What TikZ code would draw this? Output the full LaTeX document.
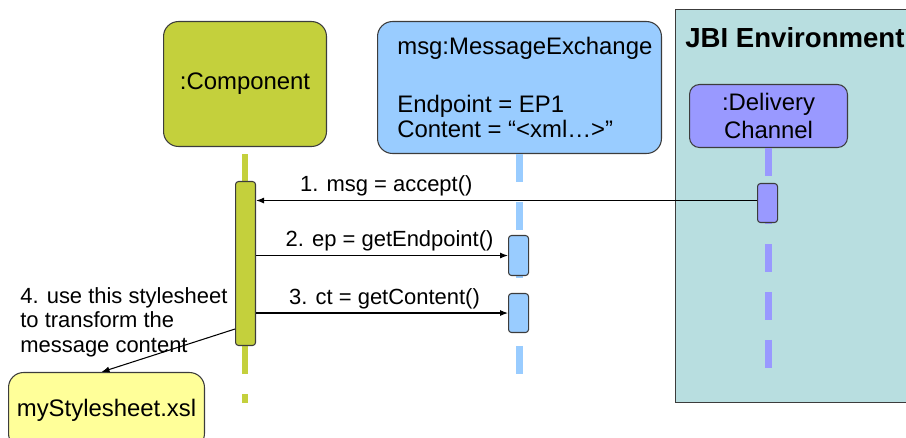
\documentclass[tikz,border=0pt]{standalone}
\usepackage{fontspec}
\setmainfont{Liberation Sans}
\usetikzlibrary{arrows.meta}
\definecolor{compgreen}{HTML}{C4D03C}
\definecolor{msgblue}{HTML}{99CCFF}
\definecolor{jbiteal}{HTML}{B8DEE0}
\definecolor{delivpurple}{HTML}{9999FF}
\definecolor{xslyellow}{HTML}{FFFF99}
\definecolor{edgegray}{HTML}{3C3C3C}
\newcommand{\diagboxfont}{\fontsize{13.6}{15.9}\selectfont}
\newcommand{\msglabelfont}{\fontsize{12.5}{13.9}\selectfont}

\begin{document}
\begin{tikzpicture}[x=0.02cm,y=-0.02cm,
  box/.style={draw=edgegray, line width=0.6pt, rounded corners=0.3cm, anchor=north west, inner sep=0pt, font=\diagboxfont},
  act/.style={draw=edgegray, line width=0.6pt, rounded corners=0.06cm, anchor=north west, minimum width=0.4cm, inner sep=0pt},
  life/.style={line width=0.13cm, dash pattern=on 0.56cm off 0.4cm},
  msgarrow/.style={-{Latex[length=0.16cm,width=0.12cm]}, line width=0.6pt},
  lbl/.style={font=\msglabelfont, inner sep=2pt}]
\useasboundingbox (0,0) rectangle (906,438);
\node[draw=edgegray, line width=0.8pt, fill=jbiteal, anchor=north west, minimum width=5cm, minimum height=7.86cm, inner sep=0pt] (jbi) at (675,9) {};
\node[anchor=west, inner sep=0pt, font=\bfseries\fontsize{15.7}{18}\selectfont] (jbititle) at (685,38) {JBI Environment};
\node[box, fill=compgreen, minimum width=3.26cm, minimum height=2.5cm] (comp) at (163,21) {:Component};
\node[box, fill=msgblue, minimum width=5.68cm, minimum height=2.64cm] (msgex) at (377,21) {};
\node[anchor=west, align=left, inner sep=0pt, font=\fontsize{13.6}{14.2}\selectfont] (msgtext) at ([xshift=0.4cm]msgex.west) {msg:MessageExchange\\[0.66cm]Endpoint = EP1\\Content = “<xml…>”};
\node[box, fill=delivpurple, rounded corners=0.2cm, minimum width=3.16cm, minimum height=1.26cm, align=center] (deliv) at (689,84) {:Delivery\\Channel};
\node[box, fill=xslyellow, minimum width=3.92cm, minimum height=1.52cm] (xsl) at (8,372) {myStylesheet.xsl};
\draw[life, compgreen] ([yshift=-0.14cm]comp.south) -- ++(0,249);
\draw[life, msgblue] (msgex.south) -- ++(0,220);
\draw[life, delivpurple] (deliv.south) -- ++(0,220);
\node[act, fill=compgreen, minimum height=3.28cm] (act1) at (235,181) {};
\node[act, fill=msgblue, minimum height=0.8cm] (act2) at (508,235) {};
\node[act, fill=msgblue, minimum height=0.78cm] (act3) at (508,293) {};
\node[act, fill=delivpurple, minimum height=0.78cm] (act4) at (757,183) {};
\draw[msgarrow] ([yshift=0.05cm]act4.west) -- ([yshift=0.05cm]act4.west -| act1.east) node[lbl, above, pos=0.74] {1. msg = accept()};
\draw[msgarrow] (act2.west -| act1.east) -- (act2.west) node[lbl, above, pos=0.53] {2. ep = getEndpoint()};
\draw[msgarrow] (act3.west -| act1.east) -- (act3.west) node[lbl, above, pos=0.51] {3. ct = getContent()};
\draw[msgarrow] ([yshift=0.34cm]act1.south west) -- ([xshift=-0.1cm]xsl.north);
\node[lbl, align=left, anchor=west, inner sep=0pt] (usenote) at (20,322) {4. use this stylesheet\\to transform the\\message content};
\end{tikzpicture}
\end{document}
